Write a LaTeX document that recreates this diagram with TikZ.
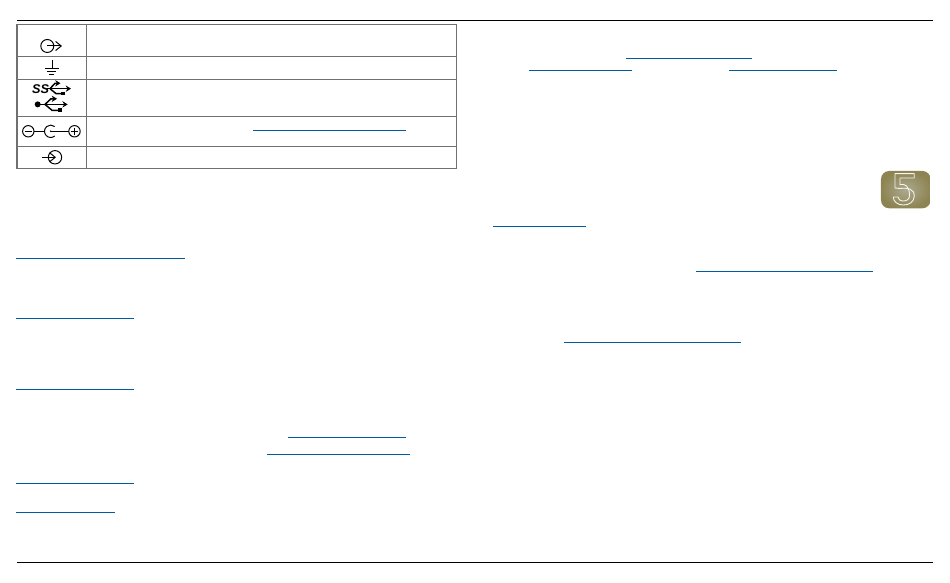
\documentclass[tikz,border=0pt]{standalone}
\usepackage{fontspec}
\setmainfont{Liberation Sans}
\usetikzlibrary{arrows.meta}
\definecolor{linkblue}{HTML}{005C9F}
\definecolor{tablegray}{HTML}{707070}
\definecolor{badgein}{HTML}{ABA98F}
\definecolor{badgeout}{HTML}{8E8453}
\tikzset{
    rule/.style={line width=0.33pt, black},
    cell/.style={line width=0.33pt, tablegray},
    link/.style={line width=0.33pt, linkblue},
    icon/.style={line width=0.28pt, black},
    usbline/.style={line width=0.42pt, black},
    iconarrow/.style={icon, -{Straight Barb[length=1.6pt,width=2.6pt,line width=0.28pt]}},
    usbarrow/.style={usbline, -{Stealth[length=1.5pt,width=1.8pt]}},
    digit/.style={line width=0.25pt, white!92!badgeout, line join=round}
}
\begin{document}
\begin{tikzpicture}[x=0.01cm,y=-0.01cm]
    \useasboundingbox (0,0) rectangle (950,583);
    % Page rules
    \draw[rule] (17,20.5) -- (933,20.5);
    \draw[rule] (17,562.5) -- (933,562.5);
    % Table
    \draw[cell] (17,24.5) rectangle (456.5,168.5);
    \draw[cell] (86.5,24.5) -- (86.5,168.5);
    \foreach \y in {56.5,79.5,116.5,146.5} {
        \draw[cell] (17,\y) -- (456.5,\y);
    }
    % Link underlines
    \foreach \xa/\xb/\y in {253.5/406/130.5, 626/751.7/58.5, 529/632/70.5, 729.5/837/70.5,
        493/586.5/226.5, 696/873/271.5, 564/741.5/342.5,
        16.5/185.5/258.5, 16.5/134/318.5, 16.5/134/389.5,
        288/406/437.5, 267/410/454.5, 16.5/134/483.5, 16.5/115/512.5} {
        \draw[link] (\xa,\y) -- (\xb,\y);
    }
    % Output jack
    \draw[icon] (47.3,46) circle (6.5);
    \draw[iconarrow] (47.3,46) -- (62,46);
    % Ground
    \draw[icon] (52,60) -- (52,68.7);
    \draw[icon] (45,68.7) -- (59,68.7);
    \draw[icon] (47.5,71.5) -- (56.5,71.5);
    \draw[icon] (49.5,74.2) -- (54.5,74.2);
    % USB 3
    \node[inner sep=0pt, font=\fontsize{3.6}{3.6}\selectfont\bfseries\itshape] (ss) at (40.5,89) {SS};
    \draw[usbarrow] (47,88.7) -- (71,88.7);
    \draw[usbarrow] (50,88.7) -- (55,83.3) -- (60.5,83.3);
    \draw[usbline] (50,88.7) -- (56,93.6) -- (62,93.6);
    \fill (61.5,91.8) rectangle (64.8,95.1);
    % USB 2
    \fill (37.7,104.4) circle (3);
    \draw[usbarrow] (37.7,104.4) -- (67.7,104.4);
    \draw[usbarrow] (45,104.4) -- (51,98.8) -- (57,98.8);
    \draw[usbline] (45,104.4) -- (52,110.3) -- (59,110.3);
    \fill (58.5,108.4) rectangle (62,112);
    % Polarity
    \draw[icon] (28.3,131.3) circle (5.7);
    \draw[icon] (25,131.3) -- (31.6,131.3);
    \draw[icon] (34,131.3) -- (44.5,131.3);
    \draw[icon] (54.7,136.05) arc (50:310:6.2);
    \fill (50.7,131.3) circle (0.9);
    \draw[icon] (50.7,131.3) -- (68.8,131.3);
    \draw[icon] (74.5,131.3) circle (5.7);
    \draw[icon] (71.2,131.3) -- (77.8,131.3);
    \draw[icon] (74.5,128) -- (74.5,134.6);
    % Input jack
    \draw[icon] (55,157.3) circle (6.7);
    \draw[iconarrow] (41.7,157.3) -- (56,157.3);
    % Chapter badge
    \shade[inner color=badgein, outer color=badgeout, rounded corners=2.3pt] (881,171) rectangle (930.6,208.3);
    \draw[digit] (914.3,173.7) -- (895,173.7) -- (895,188) -- (900,188.5)
        .. controls (908,187.5) and (914.3,189) .. (914.3,196)
        .. controls (914.3,202) and (909,205) .. (903.5,205)
        .. controls (898,205) and (893.3,202) .. (893.3,197);
    \draw[digit] (914.3,173.7) -- (914.3,178) -- (900,178) -- (900,184.5)
        .. controls (905,183.5) and (909.5,186) .. (909.5,195.5)
        .. controls (909.5,199) and (907,201) .. (903.5,201)
        .. controls (900,201) and (898.5,199.5) .. (898,197) -- (893.3,197);
\end{tikzpicture}
\end{document}
